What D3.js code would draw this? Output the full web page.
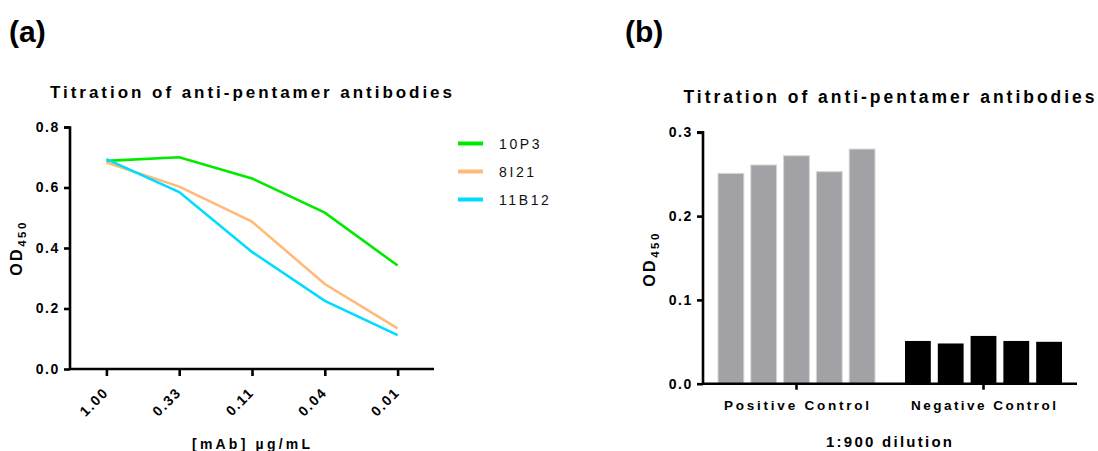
<!DOCTYPE html>
<html>
<head>
<meta charset="utf-8">
<style>
body, html { margin: 0; background: #fff; }
svg { display: block; font-family: "Liberation Sans", Arial, sans-serif; }
</style>
</head>
<body>
<div id="chart"></div>
<script src="https://cdn.jsdelivr.net/npm/d3@7"></script>
<script>

// panel (a): titration curves
const concentrations = ["1.00", "0.33", "0.11", "0.04", "0.01"];
const seriesNames = ["10P3", "8I21", "11B12"];
const seriesColors = ["#00ea00", "#ffba78", "#00dcff"];
const values10P3 = [0.688, 0.700, 0.630, 0.517, 0.342];
const values8I21 = [0.683, 0.603, 0.487, 0.281, 0.134];
const values11B12 = [0.694, 0.585, 0.387, 0.225, 0.112];
const yTicksA = [0.0, 0.2, 0.4, 0.6, 0.8];

// panel (b): controls at 1:900
const groups = ["Positive Control", "Negative Control"];
const positiveValues = [0.251, 0.261, 0.272, 0.253, 0.280];
const negativeValues = [0.051, 0.048, 0.057, 0.051, 0.050];
const yTicksB = [0.0, 0.1, 0.2, 0.3];

const W = 1098, H = 451;
const AXIS_W = 2.6;

const svg = d3.select("#chart").append("svg").attr("width", W).attr("height", H);

function panelLetter(x, txt) {
	svg.append("text").attr("x", x).attr("y", 42)
		.attr("font-size", 30).attr("font-weight", "bold").text(txt);
}
panelLetter(9, "(a)");
panelLetter(625, "(b)");

function spacedText(g, x, y, txt, size, width, weight) {
	return g.append("text").attr("x", x).attr("y", y)
		.attr("font-size", size).attr("font-weight", weight || "bold")
		.attr("text-anchor", "middle")
		.attr("textLength", width).attr("lengthAdjust", "spacing")
		.text(txt);
}

function yLabel(x, y) {
	const t = svg.append("text")
		.attr("transform", `translate(${x},${y}) rotate(-90)`)
		.attr("text-anchor", "middle").attr("font-size", 16).attr("font-weight", "bold")
		.attr("letter-spacing", 2.5);
	t.append("tspan").text("OD");
	t.append("tspan").attr("font-size", 11.5).attr("dy", 4).text("450");
}

function styleAxis(a) {
	a.select(".domain").attr("stroke", "#000").attr("stroke-width", AXIS_W);
	a.selectAll(".tick line").attr("stroke", "#000").attr("stroke-width", AXIS_W);
	a.selectAll("text").attr("fill", "#000").attr("font-size", 14).attr("font-weight", "bold")
		.attr("font-family", "Liberation Sans, Arial, sans-serif").attr("letter-spacing", 1.6);
}

// ---------- panel (a)
const ax = d3.scalePoint().domain(concentrations).range([70, 434]).padding(0.5);
const ay = d3.scaleLinear().domain([0, 0.8]).range([369, 127]);

spacedText(svg, 251, 97.5, "Titration of anti-pentamer antibodies", 17, 402);

const gA = svg.append("g");
const yAxisA = gA.append("g").attr("transform", "translate(70,0)")
	.call(d3.axisLeft(ay).tickValues(yTicksA).tickFormat(d3.format(".1f")).tickSize(6).tickPadding(4));
const xAxisA = gA.append("g").attr("transform", "translate(0,369)")
	.call(d3.axisBottom(ax).tickSize(7));

styleAxis(yAxisA);
styleAxis(xAxisA);
// axes meet at the corner as in the reference
yAxisA.select(".domain").attr("d", "M-6,127.5H0V369");
xAxisA.select(".domain").attr("d", "M70,0H434");

xAxisA.selectAll(".tick text")
	.attr("x", 0).attr("y", 0)
	.attr("text-anchor", "end")
	.attr("dy", "0.35em")
	.attr("transform", "translate(-1,21) rotate(-45)");

const seriesData = [values10P3, values8I21, values11B12];
const line = d3.line().x((d, i) => ax(concentrations[i])).y(d => ay(d));
seriesData.forEach((vals, k) => {
	gA.append("path").datum(vals).attr("d", line)
		.attr("fill", "none").attr("stroke", seriesColors[k]).attr("stroke-width", 2.6);
});

const legend = svg.append("g");
seriesNames.forEach((name, k) => {
	const y = 143.5 + k * 28;
	legend.append("line").attr("x1", 458).attr("x2", 483).attr("y1", y).attr("y2", y)
		.attr("stroke", seriesColors[k]).attr("stroke-width", 4);
	legend.append("text").attr("x", 499).attr("y", y + 5.5)
		.attr("font-size", 14).attr("letter-spacing", 2.6).attr("fill", "#111").text(name);
});

spacedText(svg, 251, 449, "[mAb] \u00b5g/mL", 14, 118);
yLabel(22, 248);

// ---------- panel (b)
const bx = d3.scaleBand().domain(groups).range([703, 1077]);
const inner = d3.scaleBand().domain(d3.range(5)).range([-78.5, 78.5]).paddingInner(0.213);
const by = d3.scaleLinear().domain([0, 0.3]).range([383.7, 132.3]);

spacedText(svg, 889, 103, "Titration of anti-pentamer antibodies", 17.5, 411);

const gB = svg.append("g");
const groupData = [positiveValues, negativeValues];
const barFill = ["#a2a2a6", "#000"];
groups.forEach((grp, gi) => {
	const cx = bx(grp) + bx.bandwidth() / 2;
	gB.selectAll(null).data(groupData[gi]).enter().append("rect")
		.attr("x", (d, i) => cx + inner(i))
		.attr("width", inner.bandwidth())
		.attr("y", d => by(d))
		.attr("height", d => by(0) - by(d))
		.attr("fill", barFill[gi])
		.attr("stroke", gi === 0 ? "#d6d6d8" : "none")
		.attr("stroke-width", 1);
});

const yAxisB = gB.append("g").attr("transform", "translate(703,0)")
	.call(d3.axisLeft(by).tickValues(yTicksB).tickFormat(d3.format(".1f")).tickSize(6).tickPadding(4));
const xAxisB = gB.append("g").attr("transform", "translate(0,383.7)")
	.call(d3.axisBottom(bx).tickSize(6).tickPadding(11));

styleAxis(yAxisB);
styleAxis(xAxisB);
yAxisB.select(".domain").attr("d", "M-6,132.3H0V383.7");
xAxisB.select(".domain").attr("d", "M703,0H1077");
xAxisB.selectAll(".tick text").attr("font-size", 13.5).attr("letter-spacing", null)
	.attr("textLength", 145).attr("lengthAdjust", "spacing");

spacedText(svg, 889, 446.5, "1:900 dilution", 15, 126);
yLabel(655, 259);

</script>
</body>
</html>
